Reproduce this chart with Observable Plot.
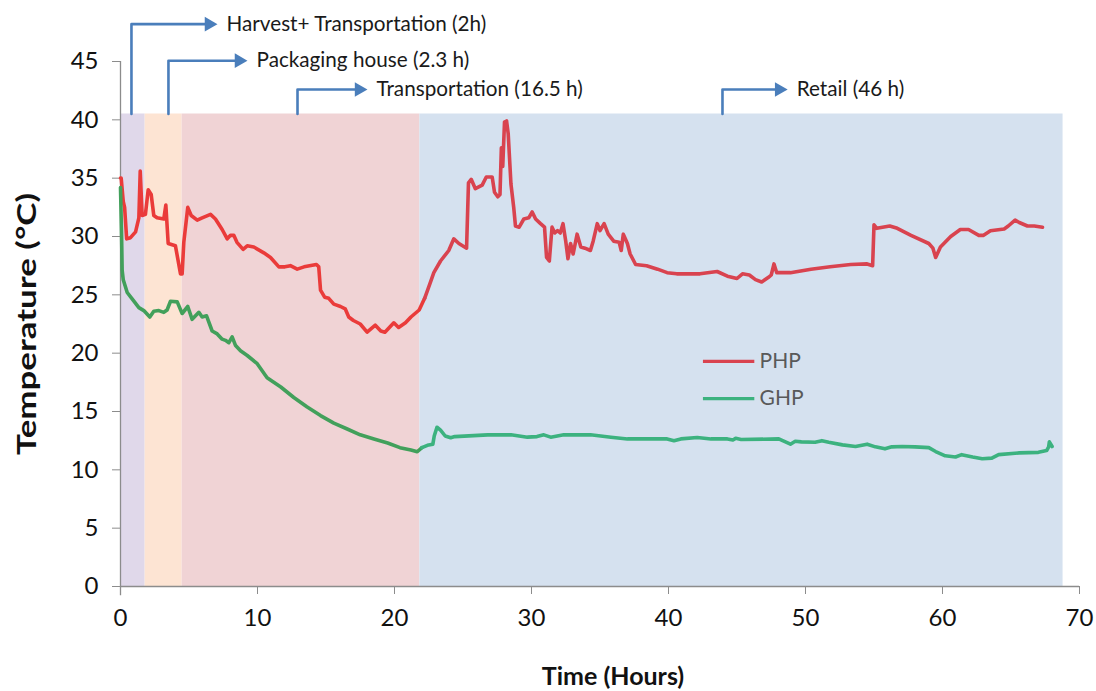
<!DOCTYPE html>
<html>
<head>
<meta charset="utf-8">
<script src="https://cdn.jsdelivr.net/npm/d3@7"></script>
<script src="https://cdn.jsdelivr.net/npm/@observablehq/plot@0.6"></script>
<style>
  html, body { margin: 0; padding: 0; background: #fff; }
</style>
</head>
<body>
<div id="chart"></div>
<script>
// ---- Data ----
const xTicks = [0, 10, 20, 30, 40, 50, 60, 70];
const yTicks = [0, 5, 10, 15, 20, 25, 30, 35, 40, 45];

const phaseNames = ["Harvest", "Packaging", "Transportation", "Retail"];
const phaseStart = [0, 1.8, 4.5, 21.85];
const phaseEnd = [1.8, 4.5, 21.85, 68.8];
const phaseTop = 40.5;

const annLabels = ["Harvest+ Transportation (2h)", "Packaging house (2.3 h)", "Transportation (16.5 h)", "Retail (46 h)"];
const annX = [0.8, 3.5, 12.92, 43.94];
const annY = [48.2, 45.07, 42.6, 42.6];
const annTip = [7.08, 9.27, 18.03, 48.7];

const phpTime = [0, 0.05, 0.2, 0.3, 0.45, 0.73, 1.1, 1.34, 1.44, 1.58, 1.82, 2.02, 2.24, 2.43, 2.67, 3.16, 3.31, 3.48, 4.01, 4.38, 4.5, 4.62, 4.91, 5.16, 5.6, 5.96, 6.57, 6.93, 7.42, 7.79, 8.03, 8.27, 8.5, 8.95, 9.25, 9.73, 10.46, 10.95, 11.56, 12.0, 12.4, 12.9, 13.4, 14.3, 14.47, 14.6, 14.9, 15.2, 15.57, 16.06, 16.4, 16.66, 17.0, 17.5, 18.0, 18.6, 19.0, 19.3, 19.95, 20.3, 20.8, 21.2, 21.8, 22.2, 22.6, 22.87, 23.36, 23.96, 24.33, 24.7, 25.26, 25.4, 25.6, 25.9, 26.4, 26.7, 27.13, 27.3, 27.54, 27.7, 27.8, 27.9, 28.03, 28.18, 28.3, 28.5, 28.7, 28.83, 29.1, 29.44, 29.8, 30.05, 30.3, 30.66, 30.95, 31.1, 31.3, 31.5, 31.7, 31.9, 32.1, 32.3, 32.5, 32.66, 32.85, 33.04, 33.33, 33.6, 33.9, 34.3, 34.5, 34.8, 35.0, 35.3, 35.6, 36.0, 36.4, 36.55, 36.7, 37.0, 37.2, 37.6, 38.4, 39.2, 39.9, 40.6, 42.3, 43.55, 44.3, 45.0, 45.4, 45.9, 46.35, 46.8, 47.3, 47.5, 47.7, 47.9, 48.9, 50.4, 51.8, 53.3, 54.5, 54.9, 55.0, 55.2, 56.15, 56.7, 57.7, 59.0, 59.3, 59.5, 59.85, 60.6, 61.3, 61.9, 62.65, 63.0, 63.5, 64.5, 64.8, 65.3, 65.6, 66.2, 66.7, 67.3];
const phpTemp = [35.0, 35.0, 33.0, 32.5, 29.8, 29.9, 30.4, 31.6, 35.6, 31.8, 31.9, 34.0, 33.6, 31.8, 31.6, 31.5, 32.7, 29.4, 29.2, 26.8, 26.8, 29.5, 32.5, 31.8, 31.4, 31.6, 31.9, 31.5, 30.6, 29.8, 30.1, 30.1, 29.5, 28.9, 29.2, 29.1, 28.6, 28.2, 27.4, 27.4, 27.5, 27.2, 27.4, 27.6, 27.4, 25.4, 24.8, 24.7, 24.2, 24.0, 23.8, 23.1, 22.8, 22.5, 21.8, 22.4, 21.9, 21.8, 22.6, 22.2, 22.6, 23.1, 23.7, 24.7, 26.0, 26.9, 27.9, 28.8, 29.8, 29.4, 29.0, 34.6, 34.9, 34.1, 34.4, 35.1, 35.1, 33.8, 33.4, 33.6, 37.6, 36.0, 39.8, 39.9, 38.8, 34.5, 32.5, 30.9, 30.8, 31.5, 31.6, 32.1, 31.5, 31.1, 30.8, 28.2, 27.9, 30.8, 30.3, 30.5, 30.3, 31.1, 29.6, 28.1, 29.4, 28.5, 30.2, 29.1, 29.0, 28.8, 29.6, 31.1, 30.5, 31.1, 30.2, 29.6, 29.5, 28.8, 30.2, 29.4, 28.5, 27.6, 27.5, 27.2, 26.9, 26.8, 26.8, 27.0, 26.6, 26.4, 26.8, 26.7, 26.3, 26.1, 26.5, 26.7, 27.65, 26.9, 26.9, 27.2, 27.4, 27.6, 27.65, 27.5, 31.0, 30.7, 30.9, 30.7, 30.1, 29.4, 29.0, 28.2, 29.1, 30.0, 30.6, 30.6, 30.1, 30.1, 30.5, 30.65, 30.9, 31.4, 31.2, 30.9, 30.9, 30.8];

const ghpTime = [0, 0.08, 0.12, 0.2, 0.49, 0.85, 1.34, 1.7, 2.14, 2.43, 2.8, 3.16, 3.4, 3.65, 4.14, 4.5, 4.91, 5.23, 5.72, 5.96, 6.28, 6.69, 7.06, 7.42, 7.66, 7.91, 8.15, 8.4, 8.76, 9.25, 9.98, 10.7, 11.7, 12.65, 13.6, 14.6, 15.57, 16.55, 17.5, 18.5, 19.5, 20.4, 21.2, 21.66, 22.0, 22.4, 22.8, 22.9, 23.1, 23.36, 23.7, 24.1, 24.4, 26.8, 28.5, 29.7, 30.4, 30.9, 31.4, 32.36, 34.3, 35.8, 37.0, 39.9, 40.4, 40.9, 42.1, 43.1, 44.3, 44.7, 44.9, 45.3, 48.05, 48.9, 49.25, 49.7, 50.7, 51.2, 51.7, 52.7, 53.65, 54.5, 55.1, 55.8, 56.3, 57.05, 58.0, 59.0, 59.5, 60.2, 60.95, 61.4, 62.2, 62.9, 63.6, 64.1, 65.6, 67.0, 67.6, 67.75, 67.8, 68.0];
const ghpTemp = [34.2, 30.0, 27.1, 26.3, 25.2, 24.65, 23.9, 23.65, 23.1, 23.6, 23.65, 23.5, 23.7, 24.45, 24.4, 23.4, 24.0, 22.9, 23.5, 23.1, 23.2, 21.9, 21.65, 21.2, 21.1, 20.9, 21.4, 20.65, 20.2, 19.8, 19.1, 17.9, 17.1, 16.2, 15.4, 14.65, 14.0, 13.5, 13.0, 12.65, 12.3, 11.9, 11.7, 11.55, 11.9, 12.1, 12.2, 12.9, 13.65, 13.4, 12.9, 12.75, 12.85, 13.0, 13.0, 12.8, 12.85, 13.0, 12.8, 13.0, 13.0, 12.8, 12.65, 12.65, 12.5, 12.65, 12.77, 12.65, 12.65, 12.56, 12.7, 12.6, 12.65, 12.2, 12.45, 12.4, 12.37, 12.5, 12.37, 12.14, 12.0, 12.2, 11.97, 11.8, 11.97, 12.0, 11.97, 11.9, 11.57, 11.2, 11.1, 11.3, 11.1, 10.95, 11.0, 11.3, 11.45, 11.5, 11.65, 11.97, 12.4, 12.0];

const seriesNames = ["PHP", "GHP"];

// ---- Styles ----
const phaseColors = ["#e0d8ea", "#fde4d3", "#f0d3d5", "#d5e1ef"];
const earlyColor = {PHP: "#ea3b3a", GHP: "#42a05b"};
const lateColor = {PHP: "#d9434f", GHP: "#3cb27f"};
const arrowColor = "#4a7ebb";
const splitT = 22.2;
const font = "Lato, 'Open Sans', sans-serif";

// ---- Tables ----
const phases = phaseNames.map((n, i) => ({name: n, start: phaseStart[i], end: phaseEnd[i], color: phaseColors[i]}));

function buildRows(name, times, temps) {
  const rows = [];
  times.forEach((t, i) => {
    const T = temps[i];
    if (t <= splitT) rows.push({t, T, key: name + "-early", color: earlyColor[name]});
    if (t >= splitT || (i + 1 < times.length && times[i + 1] > splitT && t <= splitT)) {
      rows.push({t, T, key: name + "-late", color: lateColor[name]});
    }
  });
  return rows;
}
const lineRows = [
  ...buildRows("PHP", phpTime, phpTemp),
  ...buildRows("GHP", ghpTime, ghpTemp)
];

const arrowPaths = [];
annLabels.forEach((lab, i) => {
  arrowPaths.push({k: i, x: annX[i], y: phaseTop});
  arrowPaths.push({k: i, x: annX[i], y: annY[i]});
  arrowPaths.push({k: i, x: annTip[i] - 0.7, y: annY[i]});
});
const arrowHeads = annLabels.map((lab, i) => ({x: annTip[i] - 0.62, y: annY[i]}));
const annText = annLabels.map((lab, i) => ({label: lab, x: annTip[i] + 0.66, y: annY[i]}));

const legendRows = seriesNames.map((n, i) => ({name: n, y: [19.3, 16.1][i], color: lateColor[n]}));

const chart = Plot.plot({
  width: 1096,
  height: 691,
  marginLeft: 120,
  marginRight: 17,
  marginTop: 61,
  marginBottom: 105,
  style: {fontFamily: font, background: "white", overflow: "visible"},
  x: {domain: [0, 70]},
  y: {domain: [0, 45]},
  marks: [
    Plot.rect(phases, {x1: "start", x2: "end", y1: 0, y2: phaseTop, fill: "color"}),
    Plot.ruleX([0], {y1: -0.8, y2: 45, stroke: "#8c8c8c", strokeWidth: 1.3}),
    Plot.ruleY([0], {stroke: "#8c8c8c", strokeWidth: 1.3}),
    Plot.axisX({ticks: xTicks, tickSize: 8, tickPadding: 14, fontSize: 24, stroke: "#8c8c8c", fill: "#111", label: null}),
    Plot.axisY({ticks: yTicks, tickSize: 8, tickPadding: 14, fontSize: 24, stroke: "#8c8c8c", fill: "#111", label: null}),
    Plot.line(lineRows, {x: "t", y: "T", z: "key", stroke: "color", strokeWidth: 3.6, strokeLinejoin: "round", strokeLinecap: "round"}),
    Plot.line(arrowPaths, {x: "x", y: "y", z: "k", stroke: arrowColor, strokeWidth: 2.6, clip: false}),
    Plot.dot(arrowHeads, {x: "x", y: "y", symbol: "triangle2", r: 7, fill: arrowColor, rotate: 90}),
    Plot.text(annText, {x: "x", y: "y", text: "label", textAnchor: "start", fontSize: 20.7, fill: "#1a1a1a", fontFamily: font}),
    Plot.ruleY(legendRows, {y: "y", x1: 42.55, x2: 46.3, stroke: "color", strokeWidth: 3.4}),
    Plot.text(legendRows, {y: "y", x: 46.65, text: "name", textAnchor: "start", fontSize: 21, fill: "#595959"}),
    Plot.text(["Time (Hours)"], {frameAnchor: "bottom", dy: 90, dx: 13, lineAnchor: "middle", textAnchor: "middle", fontSize: 25, fontWeight: "bold", fill: "#111"}),
    Plot.text(["Temperature (°C)"], {frameAnchor: "left", dx: -93, rotate: -90, lineAnchor: "middle", textAnchor: "middle", fontSize: 26, fontWeight: "bold", fill: "#111", className: "ylabel"})
  ]
});
document.getElementById("chart").appendChild(chart);
// Stretch the y-axis title to the reference's length
const yl = chart.querySelector(".ylabel text");
if (yl) { yl.setAttribute("textLength", "262"); yl.setAttribute("lengthAdjust", "spacingAndGlyphs"); }
</script>
</body>
</html>
